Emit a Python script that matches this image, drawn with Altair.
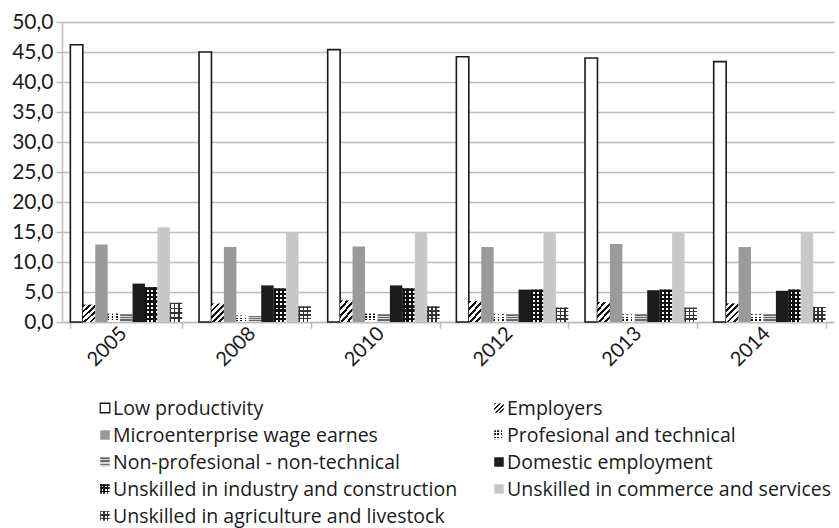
import altair as alt
import pandas as pd

years = ["2005", "2008", "2010", "2012", "2013", "2014"]
series = [
    "Low productivity",
    "Employers",
    "Microenterprise wage earnes",
    "Profesional and technical",
    "Non-profesional - non-technical",
    "Domestic employment",
    "Unskilled in industry and construction",
    "Unskilled in commerce and services",
    "Unskilled in agriculture and livestock",
]

low_productivity = [46.2, 45.0, 45.4, 44.2, 44.0, 43.4]
employers = [2.9, 3.1, 3.6, 3.5, 3.3, 3.1]
microenterprise = [12.9, 12.5, 12.6, 12.5, 13.0, 12.5]
profesional = [1.4, 1.1, 1.4, 1.3, 1.3, 1.3]
non_profesional = [1.3, 1.0, 1.3, 1.3, 1.3, 1.3]
domestic = [6.4, 6.1, 6.1, 5.4, 5.3, 5.2]
industry = [5.8, 5.6, 5.6, 5.4, 5.4, 5.4]
commerce = [15.8, 15.0, 15.0, 15.0, 15.0, 15.0]
agriculture = [3.2, 2.6, 2.6, 2.4, 2.4, 2.5]

values = [low_productivity, employers, microenterprise, profesional,
          non_profesional, domestic, industry, commerce, agriculture]

rows = []
for name, vals in zip(series, values):
    for yr, v in zip(years, vals):
        rows.append({"year": yr, "series": name, "value": v})
df = pd.DataFrame(rows)

legend_df = pd.DataFrame({
    "series": series,
    "col": [i % 2 for i in range(len(series))],
    "row": [i // 2 for i in range(len(series))],
})

AXIS_FONT = "Lato"
LEGEND_FONT = "Open Sans"
TXT = "#1a1a1a"
GRID = "#bdbdbd"
CLEAR = "rgba(255,255,255,0)"


def stripes(n, on, off, frac, x2, y2):
    """Hard-edged linear gradient that repeats `on`/`off` bands n times."""
    stops = []
    for i in range(n):
        a, b, c = i / n, (i + frac) / n, (i + 1) / n
        stops += [
            {"offset": round(a, 4), "color": on},
            {"offset": round(b, 4), "color": on},
            {"offset": round(b, 4), "color": off},
            {"offset": round(c, 4), "color": off},
        ]
    return {"gradient": "linear", "x1": 0, "y1": 0, "x2": x2, "y2": y2, "stops": stops}


def fills(legend=False):
    ny_ind = 3 if legend else 8
    ny_agr = 3 if legend else 4
    diag = stripes(4 if legend else 5, "#111111", "#ffffff", 0.45,
                   1.0 if legend else 0.77, 1.0 if legend else 1.15)
    return {
        "Low productivity": [{"fill": "#ffffff", "stroke": "#1a1a1a", "strokeWidth": 1.6}],
        "Employers": [{"fill": diag}],
        "Microenterprise wage earnes": [{"fill": "#9a9a9a"}],
        "Profesional and technical": [
            {"fill": stripes(3, "#111111", "#ffffff", 0.4, 1, 0)},
            {"fill": stripes(3, CLEAR, "#ffffff", 0.45, 0, 1)},
        ],
        "Non-profesional - non-technical": [
            {"fill": stripes(3, "#6a6a6a", "#d4d4d4", 0.5, 0, 1)}
        ],
        "Domestic employment": [{"fill": "#1c1c1c"}],
        "Unskilled in industry and construction": [
            {"fill": stripes(3, "#111111", "#ffffff", 0.55, 1, 0)},
            {"fill": stripes(ny_ind, "#111111", CLEAR, 0.55, 0, 1)},
        ],
        "Unskilled in commerce and services": [{"fill": "#c8c8c8"}],
        "Unskilled in agriculture and livestock": [
            {"fill": stripes(3, "#333333", "#ffffff", 0.35, 1, 0)},
            {"fill": stripes(ny_agr, "#333333", CLEAR, 0.35, 0, 1)},
        ],
    }


x_enc = alt.X(
    "year:N",
    sort=years,
    scale=alt.Scale(paddingInner=0.13, paddingOuter=0.065),
    axis=alt.Axis(
        title=None,
        labelAngle=-45,
        labelAlign="right",
        labelBaseline="middle",
        labelFont=AXIS_FONT,
        labelFontSize=20,
        labelColor=TXT,
        labelPadding=2,
        labelOffset=-3,
        tickBand="extent",
        tickSize=6,
        tickColor=GRID,
        tickWidth=1.5,
        domainColor=GRID,
        domainWidth=1.5,
        grid=False,
    ),
)
xo_enc = alt.XOffset(
    "series:N",
    sort=series,
    scale=alt.Scale(domain=series, paddingInner=0, paddingOuter=0),
)
y_enc = alt.Y(
    "value:Q",
    scale=alt.Scale(domain=[0, 50], nice=False),
    axis=alt.Axis(
        title=None,
        values=list(range(0, 51, 5)),
        format=".1f",
        labelExpr="replace(datum.label, '.', ',')",
        labelFont=AXIS_FONT,
        labelFontSize=21,
        labelColor=TXT,
        labelPadding=3,
        tickSize=6,
        tickColor=GRID,
        tickWidth=1.5,
        domainColor=GRID,
        domainWidth=1.5,
        grid=True,
        gridColor=GRID,
        gridWidth=1.5,
    ),
)

bar_fills = fills(False)
bar_layers = []
for name in series:
    for style in bar_fills[name]:
        bar_layers.append(
            alt.Chart(df)
            .transform_filter(alt.datum.series == name)
            .mark_bar(**style)
            .encode(x=x_enc, xOffset=xo_enc, y=y_enc)
        )
bars = alt.layer(*bar_layers)

lx = alt.X("col:Q", scale=alt.Scale(domain=[0, 1], range=[43, 437]), axis=None)
ly = alt.Y("row:Q", scale=alt.Scale(domain=[0, 4], range=[386, 494]), axis=None)

leg_fills = fills(True)
leg_layers = []
for name in series:
    for style in leg_fills[name]:
        st = dict(style)
        if "strokeWidth" in st:
            st["strokeWidth"] = 1.3
        leg_layers.append(
            alt.Chart(legend_df)
            .transform_filter(alt.datum.series == name)
            .mark_square(size=90, opacity=1, **st)
            .encode(x=lx, y=ly)
        )
leg_layers.append(
    alt.Chart(legend_df)
    .mark_text(align="left", baseline="middle", dx=8, dy=1,
               font=LEGEND_FONT, fontSize=19.5, color=TXT)
    .encode(x=lx, y=ly, text="series:N")
)
legend = alt.layer(*leg_layers)

chart = (
    alt.layer(bars, legend)
    .resolve_scale(x="independent", y="independent")
    .properties(
        width=772,
        height=300,
        autosize=alt.AutoSizeParams(type="none"),
        padding={"left": 62, "top": 22, "right": 5, "bottom": 206},
    )
    .configure_view(stroke=None)
)

chart.save("out.html", embed_options={"renderer": "svg", "actions": False})
